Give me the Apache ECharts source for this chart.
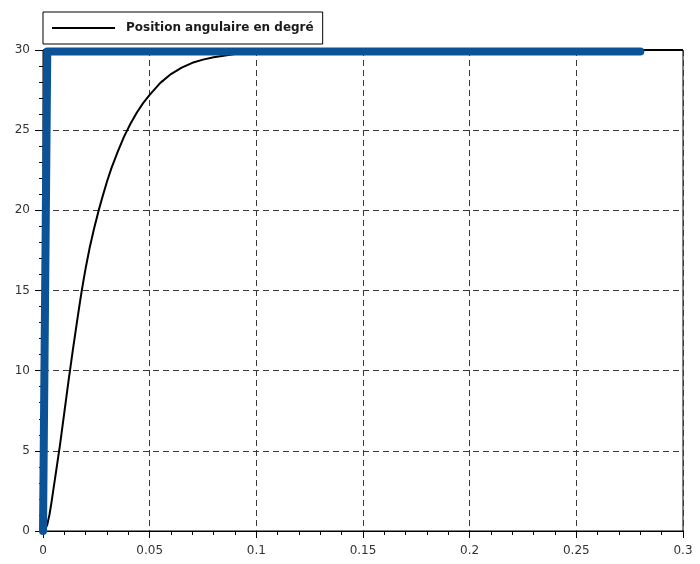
<!DOCTYPE html>
<html>
<head>
<meta charset="utf-8">
<script src="https://cdn.jsdelivr.net/npm/echarts@6/dist/echarts.min.js"></script>
<style>html,body{margin:0;padding:0;background:#fff;}#c{width:700px;height:564px;}</style>
</head>
<body>
<div id="c"></div>
<script>
// Black curve: angular position (degrees) vs time (s)
const timeValues = [0, 0.001, 0.002, 0.003, 0.004, 0.005, 0.006, 0.007, 0.008, 0.009, 0.010, 0.011, 0.012, 0.013, 0.014, 0.015, 0.016, 0.017, 0.018, 0.019, 0.020, 0.022, 0.024, 0.026, 0.028, 0.030, 0.032, 0.035, 0.038, 0.041, 0.044, 0.047, 0.050, 0.055, 0.060, 0.065, 0.070, 0.075, 0.080, 0.090, 0.100, 0.110, 0.125, 0.150, 0.200, 0.250, 0.300];
const positionValues = [0, 0.08, 0.4, 1.0, 1.8, 2.7, 3.6, 4.5, 5.4, 6.4, 7.4, 8.4, 9.4, 10.35, 11.3, 12.2, 13.1, 14.0, 14.85, 15.65, 16.4, 17.75, 18.9, 19.95, 20.9, 21.8, 22.6, 23.65, 24.6, 25.4, 26.1, 26.7, 27.2, 27.95, 28.5, 28.9, 29.2, 29.4, 29.55, 29.75, 29.86, 29.92, 29.97, 30, 30, 30, 30];
// Blue thick reference (setpoint)
const setpointTimes = [0, 0.002, 0.28];
const setpointValues = [0, 29.9, 29.9];
// Ticks
const xTickLabels = ['0', '0.05', '0.1', '0.15', '0.2', '0.25', '0.3'];
const yTickLabels = ['0', '5', '10', '15', '20', '25', '30'];
const legendLabel = 'Position angulaire en degré';

const chart = echarts.init(document.getElementById('c'), null, {renderer: 'canvas'});
const font = 'DejaVu Sans, Liberation Sans, sans-serif';
const gridLine = {show: true, lineStyle: {color: '#3a3a3a', width: 1, type: [6, 4]}};

chart.setOption({
  animation: false,
  backgroundColor: '#ffffff',
  grid: {left: 43, right: 17, top: 50, bottom: 33, show: true, borderColor: '#000', borderWidth: 1, backgroundColor: '#fff'},
  legend: {
    left: 43, top: 12,
    padding: [10, 9, 10, 9],
    borderColor: '#000', borderWidth: 1, borderRadius: 0,
    backgroundColor: '#fff',
    itemWidth: 63, itemHeight: 12,
    data: [{name: legendLabel, icon: 'path://M0,5 L63,5 L63,7 L0,7 Z'}],
    itemStyle: {color: '#000'},
    textStyle: {fontFamily: font, fontSize: 12, fontWeight: 'bold', color: '#1a1a1a', padding: [0, 0, 0, 6]}
  },
  xAxis: {
    type: 'value', min: 0, max: 0.3, interval: 0.05,
    axisLine: {show: true, onZero: false, lineStyle: {color: '#000', width: 1}},
    axisTick: {show: true, length: 7, lineStyle: {color: '#000'}},
    minorTick: {show: true, splitNumber: 5, length: 4, lineStyle: {color: '#000'}},
    splitLine: gridLine,
    axisLabel: {margin: 14, fontFamily: font, fontSize: 12, color: '#333',
      formatter: (v) => xTickLabels[Math.round(v / 0.05)]}
  },
  yAxis: {
    type: 'value', min: 0, max: 30, interval: 5,
    axisLine: {show: true, onZero: false, lineStyle: {color: '#000', width: 1}},
    axisTick: {show: true, length: 8, lineStyle: {color: '#000'}},
    minorTick: {show: true, splitNumber: 5, length: 4, lineStyle: {color: '#000'}},
    splitLine: gridLine,
    axisLabel: {margin: 13, fontFamily: font, fontSize: 12, color: '#333',
      formatter: (v) => yTickLabels[Math.round(v / 5)]}
  },
  series: [
    {
      name: legendLabel, type: 'line', showSymbol: false, symbol: 'none', smooth: false,
      data: timeValues.map((t, i) => [t, positionValues[i]]),
      lineStyle: {color: '#000', width: 2, join: 'round'}, itemStyle: {color: '#000'}, z: 2, clip: false
    },
    {
      name: 'consigne', type: 'line', showSymbol: false, symbol: 'none',
      data: setpointTimes.map((t, i) => [t, setpointValues[i]]),
      lineStyle: {color: '#0c5297', width: 8, cap: 'round', join: 'round'}, itemStyle: {color: '#0c5297'}, z: 3, clip: false
    }
  ]
});
</script>
</body>
</html>
